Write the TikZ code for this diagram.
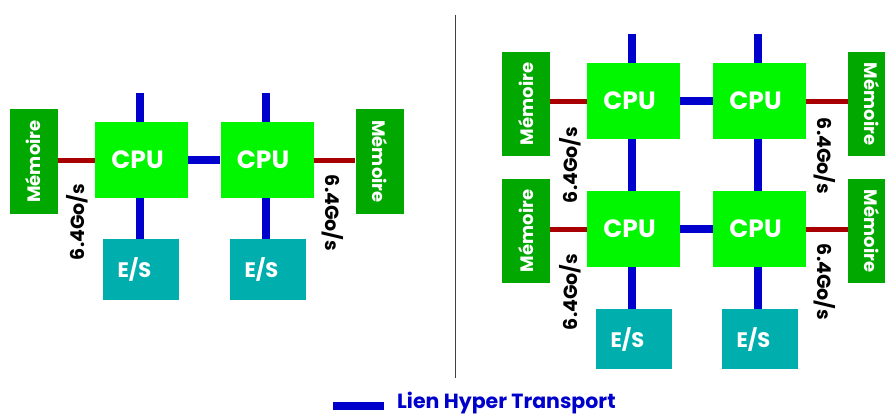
\documentclass[tikz,border=0pt]{standalone}
\usepackage{fontspec}
\usepackage{graphicx}
\setsansfont{Poppins}
\renewcommand{\familydefault}{\sfdefault}
\definecolor{cpugreen}{HTML}{00F700}
\definecolor{memgreen}{HTML}{00A800}
\definecolor{esteal}{HTML}{00AEAE}
\definecolor{htblue}{HTML}{0000CC}
\definecolor{memred}{HTML}{A80000}
\definecolor{divgray}{HTML}{404040}
\newcommand{\cputxt}{CPU\hspace*{8pt}}
\newcommand{\estxt}{E/S\hspace*{13pt}}
\tikzset{
  cpubox/.style={fill=cpugreen, minimum width=93pt, minimum height=76pt, inner sep=0pt,
    text=white, font=\fontsize{25}{27}\selectfont\bfseries},
  membox/.style={fill=memgreen, minimum width=48pt, minimum height=105pt, inner sep=0pt,
    text=white, font=\fontsize{18}{20}\selectfont\bfseries},
  esbox/.style={fill=esteal, minimum width=76pt, minimum height=61pt, inner sep=0pt,
    text=white, font=\fontsize{21}{23}\selectfont\bfseries},
  htlink/.style={draw=htblue, line width=8pt},
  memlink/.style={draw=memred, line width=5pt},
  rate/.style={font=\fontsize{19}{21}\selectfont\bfseries, text=black, inner sep=0pt},
}
\begin{document}
\begin{tikzpicture}[x=1pt, y=-1pt]
\clip (0,0) rectangle (885,416);
\fill[white] (0,0) rectangle (885,416);
% ---------- left system ----------
\node[membox] (memL) at (33.5,161.5) {\rotatebox{90}{Mémoire}};
\node[membox] (memR) at (379.5,161.5) {\rotatebox{-90}{Mémoire}};
\node[cpubox] (cpuA) at (141.5,160) {\cputxt};
\node[cpubox] (cpuB) at (267,160) {\cputxt};
\node[esbox] (esA) at (141,269.5) {\estxt};
\node[esbox] (esB) at (268,269.5) {\estxt};
\coordinate (topA) at (139.5,93);
\coordinate (topB) at (265.5,93);
\draw[memlink] (memL.east |- cpuA) -- (cpuA.west);
\draw[memlink] (cpuB.east) -- (memR.west |- cpuB);
\draw[htlink] (cpuA.east) -- (cpuB.west);
\draw[htlink] (topA) -- (topA |- cpuA.north);
\draw[htlink] (topB) -- (topB |- cpuB.north);
\draw[htlink] (topA |- cpuA.south) -- (topA |- esA.north);
\draw[htlink] (topB |- cpuB.south) -- (topB |- esB.north);
\node[rate, rotate=90] (rA) at (77,222) {6.4Go/s};
\node[rate, rotate=-90] (rB) at (333,213) {6.4Go/s};
% ---------- divider ----------
\coordinate (d1) at (455,15);
\coordinate (d2) at (455,378);
\draw[divgray, line width=1pt] (d1) -- (d2);
% ---------- right system ----------
\node[membox, minimum height=104pt] (mTL) at (526,104) {\rotatebox{90}{Mémoire}};
\node[membox, minimum height=104pt] (mBL) at (526,231) {\rotatebox{90}{Mémoire}};
\node[membox, minimum height=104pt] (mTR) at (872,104) {\rotatebox{-90}{Mémoire}};
\node[membox, minimum height=104pt] (mBR) at (872,231) {\rotatebox{-90}{Mémoire}};
\node[cpubox] (cTL) at (633.5,101) {\cputxt};
\node[cpubox] (cTR) at (759.5,101) {\cputxt};
\node[cpubox] (cBL) at (633.5,229) {\cputxt};
\node[cpubox] (cBR) at (759.5,229) {\cputxt};
\node[esbox, minimum height=60pt] (eL) at (634,339) {\estxt};
\node[esbox, minimum height=60pt] (eR) at (760,339) {\estxt};
\coordinate (tL) at (632,34);
\coordinate (tR) at (758,34);
\draw[memlink] (mTL.east |- cTL) -- (cTL.west);
\draw[memlink] (mBL.east |- cBL) -- (cBL.west);
\draw[memlink] (cTR.east) -- (mTR.west |- cTR);
\draw[memlink] (cBR.east) -- (mBR.west |- cBR);
\draw[htlink] (cTL.east) -- (cTR.west);
\draw[htlink] (cBL.east) -- (cBR.west);
\draw[htlink] (tL) -- (tL |- cTL.north);
\draw[htlink] (tR) -- (tR |- cTR.north);
\draw[htlink] (tL |- cTL.south) -- (tL |- cBL.north);
\draw[htlink] (tR |- cTR.south) -- (tR |- cBR.north);
\draw[htlink] (tL |- cBL.south) -- (tL |- eL.north);
\draw[htlink] (tR |- cBR.south) -- (tR |- eR.north);
\node[rate, rotate=90] (r1) at (570,165) {6.4Go/s};
\node[rate, rotate=90] (r2) at (570,292) {6.4Go/s};
\node[rate, rotate=-90] (r3) at (825,156) {6.4Go/s};
\node[rate, rotate=-90] (r4) at (825,282) {6.4Go/s};
% ---------- legend ----------
\coordinate (lg1) at (333,406);
\coordinate (lg2) at (384,406);
\draw[htlink] (lg1) -- (lg2);
\node[anchor=west, inner sep=0pt, text=htblue, font=\fontsize{20.5}{22}\selectfont\bfseries] (lgt) at (397,403) {Lien Hyper Transport};
\end{tikzpicture}
\end{document}
